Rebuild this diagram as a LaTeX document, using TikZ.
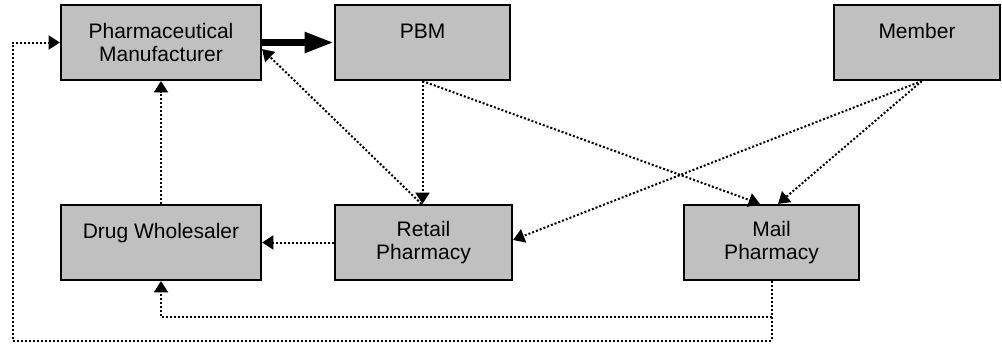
\documentclass[tikz,border=0pt]{standalone}
\usepackage{fontspec}
\setmainfont{Liberation Sans}
\usetikzlibrary{arrows.meta,calc}
\definecolor{boxgray}{RGB}{192,192,192}
\begin{document}
\begin{tikzpicture}[x=0.75pt,y=-0.75pt,
  box/.style={draw=black,line width=1.6pt,fill=boxgray,minimum width=#1,
    minimum height=56.25pt,inner sep=0pt,align=center,
    font=\fontsize{15.75}{17.25}\selectfont},
  flow/.style={line width=1.5pt,dash pattern=on 1.5pt off 1.5pt,
    -{Triangle[length=8.5pt,width=10.5pt]}},
  bigflow/.style={line width=5.25pt,-{Triangle[length=22pt,width=14.5pt]}}]
\fill[white] (0,0) rectangle (1002,343);
\useasboundingbox (0,0) rectangle (1002,343);

\node[box=150pt]    (pharma) at (161,42.5)   {Pharmaceutical\\Manufacturer};
\node[box=131.25pt] (pbm)    at (422.5,42.5) {PBM\\\phantom{X}};
\node[box=124.5pt]  (member) at (917,42.5)   {Member\\\phantom{X}};
\node[box=150pt]    (drug)   at (161,242.5)  {Drug Wholesaler\\\phantom{X}};
\node[box=132.75pt] (retail) at (423.5,242.5){Retail\\Pharmacy};
\node[box=131.25pt] (mail)   at (771.5,242.5){Mail\\Pharmacy};

\coordinate (lc) at (13,341);

\draw[flow] ([xshift=-1.5pt]retail.north) -- ([yshift=-5pt]pharma.east);
\draw[bigflow] (pharma.east) -- (pbm.west);
\draw[flow] (pbm.south) -- (pbm.south |- retail.north);
\draw[flow] (pbm.south) -- ([xshift=-8.6pt]mail.north);
\draw[flow] ([xshift=3.6pt]member.south) -- ([xshift=4.9pt]mail.north);
\draw[flow] ([xshift=3.6pt]member.south) -- ([yshift=1.9pt]retail.east);
\draw[flow] (retail.west) -- (drug.east);
\draw[flow] (drug.north) -- (pharma.south);
\draw[flow] (mail.south) -- ++(0,36) -| (drug.south);
\draw[flow] (mail.south) |- (lc) |- (pharma.west);
\end{tikzpicture}
\end{document}
